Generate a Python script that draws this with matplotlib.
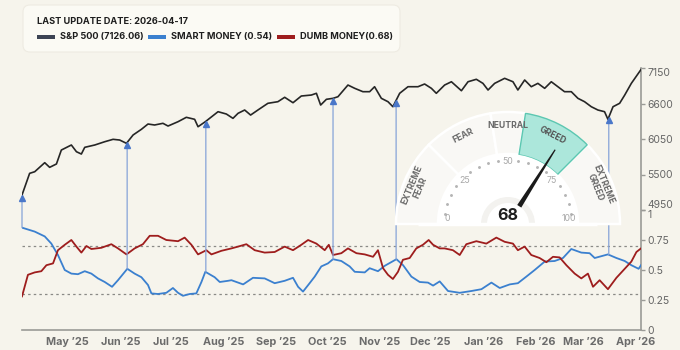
import matplotlib
matplotlib.use("Agg")
import matplotlib.pyplot as plt
import numpy as np
import pandas as pd
from matplotlib.patches import Wedge, FancyBboxPatch, Rectangle, Polygon, ConnectionPatch

plt.rcParams['font.family'] = ['Inter', 'DejaVu Sans']

START = pd.Timestamp('2025-04-17')
LAST_UPDATE = '2026-04-17'

# S&P 500 close, x = days since START
sp_days = [0, 4.5, 7.5, 13.4, 16.3, 20.3, 23.2, 29.1, 32.1, 35.0, 37.0, 42.9, 48.8, 53.7,
           57.6, 61.6, 65.5, 70.4, 74.3, 78.2, 83.1, 86.1, 92.0, 96.9, 101.8, 103.8, 108.1,
           115.6, 120.5, 124.4, 127.4, 131.3, 134.8, 139.1, 145.0, 150.9, 154.9, 159.8,
           164.7, 170.6, 173.6, 176.1, 179.5, 183.4, 186.3, 192.2, 196.2, 201.0, 205.0,
           207.9, 211.9, 215.8, 218.7, 222.7, 227.6, 233.5, 237.4, 241.4, 244.3, 249.2,
           253.2, 259.1, 263.0, 267.9, 271.8, 274.8, 278.7, 284.6, 289.5, 292.4, 296.4,
           300.3, 304.2, 308.2, 312.1, 316.0, 319.9, 323.9, 327.8, 331.7, 335.7, 339.6,
           343.5, 345.5, 348.5, 352.4, 355.4, 359.3, 365]
sp_vals = [5182, 5518, 5543, 5683, 5611, 5663, 5879, 5957, 5853, 5817, 5921, 5957, 6008, 6045,
           6034, 5983, 6112, 6200, 6282, 6267, 6293, 6251, 6318, 6386, 6355, 6240, 6318,
           6473, 6437, 6370, 6448, 6499, 6421, 6499, 6603, 6628, 6696, 6612,
           6716, 6731, 6758, 6576, 6665, 6680, 6705, 6886, 6835, 6783, 6783,
           6860, 6680, 6628, 6550, 6758, 6860, 6860, 6902, 6835, 6758, 6886,
           6937, 6798, 6937, 6975, 6912, 6809, 6912, 6990, 6937, 6809, 6964,
           6860, 6912, 6835, 6937, 6860, 6783, 6783, 6680, 6628, 6550, 6499,
           6473, 6355, 6550, 6603, 6731, 6912, 7126.06]

# Smart money confidence
smart_days = [0, 7.5, 13.4, 17.3, 21.2, 25.2, 29.1, 33.0, 37.0, 40.9, 44.8, 48.8, 53.1, 56.6,
              62.1, 66.4, 70.4, 74.3, 76.3, 80.2, 85.1, 89.0, 92.0, 94.9, 98.9, 102.8, 105.8,
              108.1, 113.6, 116.6, 121.5, 123.5, 130.4, 136.2, 143.1, 149.0, 154.9, 159.8,
              162.8, 165.7, 169.6, 172.6, 176.5, 180.4, 183.4, 188.3, 193.2, 196.2, 202.1,
              205.0, 209.9, 213.9, 220.8, 224.7, 229.6, 234.5, 239.4, 242.4, 246.3, 251.2,
              258.1, 265.0, 270.9, 276.8, 281.7, 287.6, 292.4, 297.4, 302.3, 308.2, 314.1,
              319.0, 323.9, 329.8, 334.7, 337.7, 345.5, 350.5, 355.4, 359.3, 363.6, 365]
smart_vals = [0.853, 0.82, 0.78, 0.72, 0.625, 0.50, 0.47, 0.465, 0.49, 0.47, 0.43, 0.40, 0.36, 0.415,
              0.51, 0.47, 0.44, 0.375, 0.305, 0.30, 0.31, 0.35, 0.31, 0.285, 0.30, 0.305, 0.40,
              0.485, 0.44, 0.40, 0.41, 0.415, 0.38, 0.435, 0.43, 0.39, 0.41, 0.435,
              0.36, 0.32, 0.39, 0.445, 0.53, 0.555, 0.59, 0.575, 0.53, 0.485, 0.48,
              0.515, 0.49, 0.535, 0.59, 0.54, 0.445, 0.40, 0.395, 0.37, 0.405, 0.325,
              0.31, 0.325, 0.34, 0.395, 0.35, 0.38, 0.39, 0.445, 0.50, 0.57, 0.575,
              0.60, 0.675, 0.645, 0.64, 0.60, 0.63, 0.60, 0.575, 0.54, 0.51, 0.54]

# Dumb money confidence
dumb_days = [0, 3.5, 7.5, 11.4, 14.4, 18.3, 21.2, 25.2, 29.1, 32.1, 35.0, 38.0, 40.9, 46.8,
             52.7, 56.6, 61.6, 66.4, 71.3, 75.3, 80.2, 85.1, 92.0, 95.9, 99.9, 103.8, 108.7,
             111.7, 117.6, 123.5, 127.4, 132.3, 137.2, 143.1, 149.0, 154.9, 159.8, 164.7,
             168.7, 173.6, 178.5, 180.9, 183.4, 188.3, 192.2, 197.2, 202.1, 207.0, 209.9,
             212.9, 215.8, 218.7, 221.7, 224.6, 228.6, 232.5, 236.4, 239.8, 242.4, 246.3,
             249.2, 254.1, 258.1, 262.0, 267.9, 273.8, 279.7, 284.6, 289.5, 292.4, 296.4,
             300.3, 305.2, 309.2, 313.1, 317.0, 321.0, 325.9, 329.8, 333.7, 336.7, 340.6,
             345.5, 350.5, 355.4, 359.3, 362.3, 365]
dumb_vals = [0.28, 0.46, 0.48, 0.49, 0.54, 0.555, 0.665, 0.71, 0.75, 0.695, 0.645, 0.70, 0.675, 0.685,
             0.715, 0.68, 0.63, 0.68, 0.715, 0.785, 0.785, 0.75, 0.74, 0.77, 0.71, 0.63, 0.665,
             0.63, 0.66, 0.68, 0.695, 0.715, 0.665, 0.645, 0.65, 0.695, 0.665, 0.71,
             0.75, 0.72, 0.665, 0.71, 0.625, 0.64, 0.68, 0.64, 0.63, 0.61, 0.665,
             0.515, 0.46, 0.425, 0.485, 0.585, 0.60, 0.68, 0.71, 0.75, 0.71, 0.68,
             0.68, 0.665, 0.625, 0.715, 0.74, 0.72, 0.77, 0.735, 0.72, 0.665, 0.695,
             0.625, 0.60, 0.565, 0.61, 0.605, 0.54, 0.47, 0.43, 0.47, 0.36, 0.415,
             0.34, 0.435, 0.51, 0.57, 0.65, 0.68]

# buy signals (days since START)
signal_days = [0, 62, 108.4, 183.4, 220.6, 346]

sentiment_score = 68
zone_names = ['EXTREME\nFEAR', 'FEAR', 'NEUTRAL', 'GREED', 'EXTREME\nGREED']
zone_edges = [0, 25, 45, 55, 75, 100]

smart_ticks = [0, 0.25, 0.5, 0.75, 1]
sp_ticks = [4950, 5500, 6050, 6600, 7150]

BG = '#f6f4ec'
GRAY = '#9a9a96'
SP_COLOR = '#262626'
SMART_COLOR = '#3b80cf'
DUMB_COLOR = '#9e1d1d'
SIG_COLOR = '#86a3d8'

fig = plt.figure(figsize=(6.8, 3.5), dpi=100, facecolor=BG)
ax = fig.add_axes([22 / 680, 20 / 350, 619 / 680, 262 / 350])
ax.set_facecolor(BG)
ax2 = ax.twinx()

# smart / dumb panel (0..1 in lower part)
ax.plot(smart_days, smart_vals, color=SMART_COLOR, lw=1.3, zorder=3)
ax.plot(dumb_days, dumb_vals, color=DUMB_COLOR, lw=1.3, zorder=3)
for lvl in (0.3, 0.7):
    ax.axhline(lvl, color='#8a8a86', lw=0.9, ls=(0, (2, 2.5)), zorder=2)
ax.set_xlim(0, 365)
ax.set_ylim(0, 262 / 120)
ax.set_yticks(smart_ticks)
ax.set_yticklabels(['0', '0.25', '0.5', '0.75', '1'])
ax.yaxis.set_ticks_position('right')
ax.yaxis.set_label_position('right')
for s in ('left', 'top'):
    ax.spines[s].set_visible(False)
for s in ('right', 'bottom'):
    ax.spines[s].set_color(GRAY)
    ax.spines[s].set_linewidth(1.2)
ax.tick_params(axis='y', length=3, width=1, color=GRAY, labelcolor='#666666', labelsize=7.5, pad=1.5)
ax.get_yticklabels()[-1].set_va('top')

# month ticks sit around mid-month
tick_dates = pd.date_range('2025-05-01', '2026-04-01', freq='MS') + pd.Timedelta(days=13)
tick_days = [(d - START).days for d in tick_dates]
ax.set_xticks(tick_days)
ax.set_xticklabels([f"{d:%b} \u2019{d:%y}" for d in tick_dates], fontweight='bold')
ax.tick_params(axis='x', length=0, pad=5, labelcolor='#6b6b6b', labelsize=7.8)

# S&P panel (upper part)
ax2.plot(sp_days, sp_vals, color=SP_COLOR, lw=1.2, zorder=3)
ax2.set_ylim(4950 - 120 * 2200 / 142, 7150)
ax2.set_yticks(sp_ticks)
ax2.set_yticklabels([str(t) for t in sp_ticks])
ax2.tick_params(axis='y', length=3, width=1, color=GRAY, labelcolor='#666666', labelsize=7.5, pad=1.5)
labs = ax2.get_yticklabels()
labs[0].set_va('bottom')
labs[-1].set_va('top')
for s in ax2.spines.values():
    s.set_visible(False)

# signal arrows from smart money line up to S&P
for d in signal_days:
    sm = np.interp(d, smart_days, smart_vals)
    sp = np.interp(d, sp_days, sp_vals)
    con = ConnectionPatch(xyA=(d, sm), coordsA=ax.transData, xyB=(d, sp - 25), coordsB=ax2.transData,
                          color=SIG_COLOR, lw=0.9, zorder=2)
    ax2.add_artist(con)
    ax2.plot(d, sp - 40, marker='^', ms=5, color='#4a77c9', clip_on=False, zorder=4)

# overlay in pixel units for legend box and gauge
gx = fig.add_axes([0, 0, 1, 1], zorder=5)
gx.set_xlim(0, 680)
gx.set_ylim(0, 350)
gx.axis('off')
gx.patch.set_visible(False)

gx.add_patch(FancyBboxPatch((23, 298), 377, 47, boxstyle='round,pad=0,rounding_size=7',
                            fc='#fbfaf4', ec='#eeebe2', lw=0.8))
gx.text(37, 329, f'LAST UPDATE DATE: {LAST_UPDATE}', fontsize=6.6, fontweight='bold',
        color='#1e1e1e', va='center')
legend_items = [(37, f'S&P 500 ({sp_vals[-1]:.2f})', '#3c4353'),
                (148, f'SMART MONEY ({smart_vals[-1]:.2f})', SMART_COLOR),
                (277, f'DUMB MONEY({dumb_vals[-1]:.2f})', DUMB_COLOR)]
for x0, lab, col in legend_items:
    gx.add_patch(Rectangle((x0, 311), 18, 4.5, fc=col, ec='none'))
    gx.text(x0 + 23, 313.3, lab, fontsize=6.6, fontweight='bold', color='#1e1e1e', va='center')

# gauge
cx, cy = 508, 126


def ang(v):
    return 180 - 1.8 * v


for i, name in enumerate(zone_names):
    lo, hi = zone_edges[i], zone_edges[i + 1]
    active = lo <= sentiment_score < hi
    fc = '#ace7db' if active else '#f9f8f5'
    ec = '#5cc7b1' if active else 'white'
    gx.add_patch(Wedge((cx, cy), 112, ang(hi), ang(lo), width=42, fc=fc, ec=ec,
                       lw=1.0 if active else 1.8, zorder=1 + active))
    mid = np.radians(ang((lo + hi) / 2))
    r = 99
    gx.text(cx + r * np.cos(mid), cy + r * np.sin(mid), name, fontsize=6.2, fontweight='bold',
            color='#555555' if active else '#6a6a6a', ha='center', va='center',
            rotation=np.degrees(mid) - 90, linespacing=1.0, zorder=3)

gx.add_patch(Wedge((cx, cy), 70, 0, 180, fc='white', ec='none', zorder=3))
gx.add_patch(Wedge((cx, cy), 27, 0, 180, fc='#f3f2ef', ec='none', zorder=3))
gx.add_patch(Wedge((cx, cy), 21, 0, 180, fc='white', ec='none', zorder=3))
gx.plot([418, 597], [cy, cy], color='white', lw=2.5, zorder=3, solid_capstyle='butt')

for v in range(5, 100, 5):
    if v % 25:
        t = np.radians(ang(v))
        gx.plot(cx + 64 * np.cos(t), cy + 64 * np.sin(t), 'o', ms=1.1, color='#b5b5b5', zorder=4)
for v in (0, 25, 50, 75, 100):
    t = np.radians(ang(v))
    if v in (0, 100):
        x, y, va = cx + 61 * np.cos(t), cy + 1, 'bottom'
    else:
        x, y, va = cx + 62 * np.cos(t), cy + 62 * np.sin(t), 'center'
    gx.text(x, y, str(v), fontsize=6.3, color='#a8a8a8', ha='center', va=va, zorder=4)

t = np.radians(ang(sentiment_score))
u = np.array([np.cos(t), np.sin(t)])
n = np.array([-np.sin(t), np.cos(t)])
c = np.array([cx, cy])
needle = [c + 21 * u + 2.4 * n, c + 88 * u + 0.6 * n, c + 88 * u - 0.6 * n, c + 21 * u - 2.4 * n]
gx.add_patch(Polygon(needle, closed=True, fc='#1a1a1a', ec='none', zorder=5))
gx.text(cx, cy + 8, str(sentiment_score), fontsize=11.5, fontweight='bold', color='#1e1e1e',
        ha='center', va='center', zorder=6)

fig.savefig('out.png', dpi=100, facecolor=BG)
